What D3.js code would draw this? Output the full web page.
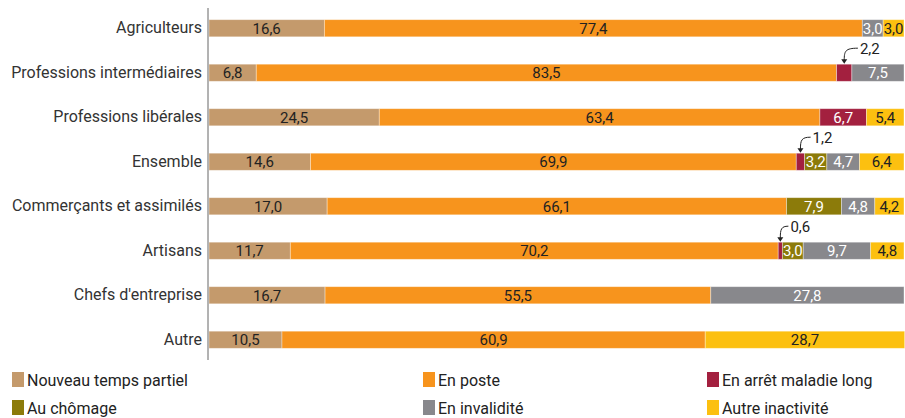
<!DOCTYPE html>
<html>
<head>
<meta charset="utf-8">
<script src="https://cdn.jsdelivr.net/npm/d3@7"></script>
<style>
  body { margin: 0; background: #fff; }
  svg { display: block; font-family: Roboto, sans-serif; }
</style>
</head>
<body>
<div id="chart-area"></div>
<script>
var categories = ["Agriculteurs", "Professions intermédiaires", "Professions libérales", "Ensemble",
    "Commerçants et assimilés", "Artisans", "Chefs d'entreprise", "Autre"];

var seriesNames = ["Nouveau temps partiel", "En poste", "En arrêt maladie long",
    "Au chômage", "En invalidité", "Autre inactivité"];

var tempsPartiel = [16.6, 6.8, 24.5, 14.6, 17.0, 11.7, 16.7, 10.5];
var enPoste      = [77.4, 83.5, 63.4, 69.9, 66.1, 70.2, 55.5, 60.9];
var arretMaladie = [0, 2.2, 6.7, 1.2, 0, 0.6, 0, 0];
var chomage      = [0, 0, 0, 3.2, 7.9, 3.0, 0, 0];
var invalidite   = [3.0, 7.5, 0, 4.7, 4.8, 9.7, 27.8, 0];
var autreInact   = [3.0, 0, 5.4, 6.4, 4.2, 4.8, 0, 28.7];

var colors = ["#c49a6c", "#f7941d", "#a3203f", "#8c7b0a", "#88888c", "#fcc010"];
var textColors = ["#222", "#222", "#fff", "#fff", "#fff", "#222"];

var W = 905, H = 418;
var margin = { left: 209, right: 1, top: 6, bottom: 58 };

var svg = d3.select("#chart-area").append("svg")
    .attr("width", W).attr("height", H);

// build rows for the stack
var keys = d3.range(seriesNames.length);
var allSeries = [tempsPartiel, enPoste, arretMaladie, chomage, invalidite, autreInact];
var rows = categories.map(function (c, i) {
    var r = { cat: c };
    keys.forEach(function (k) { r[k] = allSeries[k][i]; });
    return r;
});

var stacked = d3.stack().keys(keys)(rows);

var x = d3.scaleLinear().domain([0, 100]).range([margin.left, W - margin.right]);
var y = d3.scaleBand().domain(categories)
    .range([margin.top, H - margin.bottom + 2])
    .paddingInner(0.615).paddingOuter(0.3075);

// bars
var layers = svg.selectAll("g.layer").data(stacked).enter().append("g")
    .attr("class", "layer")
    .attr("fill", function (d) { return colors[d.key]; });

layers.selectAll("rect").data(function (d) { return d; }).enter().append("rect")
    .filter(function (d) { return d[1] - d[0] > 0; })
    .attr("x", function (d) { return x(d[0]); })
    .attr("y", function (d) { return y(d.data.cat); })
    .attr("width", function (d) { return x(d[1]) - x(d[0]); })
    .attr("height", y.bandwidth())
    .attr("stroke", "#fff")
    .attr("stroke-opacity", 0.45)
    .attr("stroke-width", 0.8);

function fmt(v) { return v.toFixed(1).replace(".", ","); }

// labels in bars (small sick-leave values get a callout above)
var smallLimit = 2.5;
stacked.forEach(function (layer) {
    layer.forEach(function (d) {
        var v = d[1] - d[0];
        if (v <= 0) return;
        var cy = y(d.data.cat) + y.bandwidth() / 2;
        if (v < smallLimit && layer.key === 2) {
            var mid = x((d[0] + d[1]) / 2);
            var top = y(d.data.cat);
            var lx = x(d[1]) + 8;
            var ly = top - 16;
            svg.append("path")
                .attr("d", "M" + (lx - 2) + "," + ly + " C" + (mid + 1) + "," + ly + " " + mid + "," + (ly + 3) + " " + mid + "," + (top - 4))
                .attr("fill", "none").attr("stroke", "#222").attr("stroke-width", 1);
            svg.append("path")
                .attr("d", "M" + (mid - 3) + "," + (top - 5) + " L" + (mid + 3) + "," + (top - 5) + " L" + mid + "," + (top - 0.5) + "Z")
                .attr("fill", "#222");
            svg.append("text")
                .attr("x", lx).attr("y", ly).attr("dy", "0.36em")
                .attr("font-size", "15px").attr("fill", "#222")
                .text(fmt(v));
            return;
        }
        svg.append("text")
            .attr("x", x((d[0] + d[1]) / 2)).attr("y", cy).attr("dy", "0.36em")
            .attr("text-anchor", "middle")
            .attr("font-size", "15px")
            .attr("fill", textColors[layer.key])
            .text(fmt(v));
    });
});

// y axis
var yAxis = svg.append("g")
    .attr("transform", "translate(" + (margin.left - 1) + ",0)")
    .call(d3.axisLeft(y).tickSize(0).tickPadding(6));
yAxis.select(".domain").attr("d", "M0,8V360").attr("stroke", "#666");
yAxis.selectAll("text").attr("font-size", "16px").attr("fill", "#333")
    .attr("font-family", "Roboto, sans-serif");

// legend
var legX = [12, 423, 707], legY = [372, 400];
var legend = svg.selectAll("g.leg").data(seriesNames).enter().append("g")
    .attr("class", "leg")
    .attr("transform", function (d, i) { return "translate(" + legX[i % 3] + "," + legY[Math.floor(i / 3)] + ")"; });
legend.append("rect").attr("width", 12).attr("height", 15)
    .attr("fill", function (d, i) { return colors[i]; });
legend.append("text").attr("x", 15).attr("y", 14)
    .attr("font-size", "16px").attr("fill", "#222")
    .text(function (d) { return d; });
</script>
</body>
</html>
